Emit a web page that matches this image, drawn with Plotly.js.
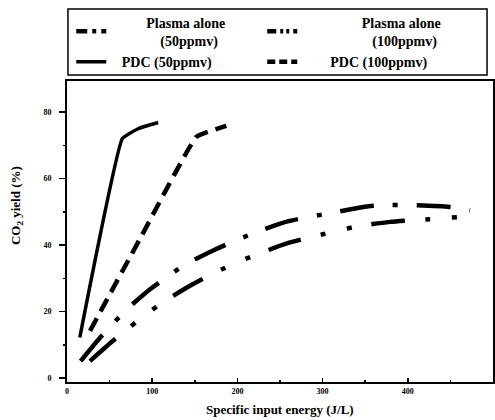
<!DOCTYPE html>
<html>
<head>
<meta charset="utf-8">
<script src="https://cdn.plot.ly/plotly-3.0.1.min.js"></script>
<style>html,body{margin:0;padding:0;background:#fff;}#chart{width:495px;height:420px;}</style>
</head>
<body>
<div id="chart"></div>
<script>
// Data
const plasma50X = [16, 39, 70, 99, 138, 174, 221, 260, 312, 354, 381, 406, 449, 473];
const plasma50Y = [5.1, 12.2, 20.6, 27.0, 34.0, 38.7, 43.8, 47.2, 49.8, 51.7, 52.1, 52.0, 51.5, 50.5];
const plasma100X = [27, 54, 94, 115, 148, 194, 219, 258, 312, 338, 379, 437, 471];
const plasma100Y = [5.1, 11.2, 19.4, 23.2, 28.3, 34.2, 36.8, 40.5, 44.0, 45.5, 47.0, 48.0, 48.7];
const pdc50X = [15, 65, 84, 107];
const pdc50Y = [12.2, 72.1, 75.1, 76.9];
const pdc100X = [27, 88, 152, 187];
const pdc100Y = [14.2, 43.0, 72.6, 75.9];

const nb = n => '\u00A0'.repeat(n);
const names = {
  p50: nb(10) + 'Plasma alone<br>' + nb(14) + '(50ppmv)',
  p100: nb(17) + 'Plasma alone<br>' + nb(20) + '(100ppmv)',
  d50: nb(3) + 'PDC (50ppmv)',
  d100: nb(8) + 'PDC (100ppmv)'
};

const serif = 'Liberation Serif, Times New Roman, serif';

const styles = {
  p50: {color: '#000', width: 4.5, dash: '34px,19px,5px,19px'},
  p100: {color: '#000', width: 4.5, dash: '34px,20px,5px,22px,5px,20px'},
  d50: {color: '#000', width: 3.5},
  d100: {color: '#000', width: 4.5, dash: '14px,8px'}
};
const legendDash = {
  p50: '11px,5px,4px,5px',
  p100: '9px,4px,3px,3px,3px,4px',
  d50: 'solid',
  d100: '8px,4px'
};

const series = [
  ['p50', plasma50X, plasma50Y, 'spline', 0.6],
  ['p100', plasma100X, plasma100Y, 'spline', 0.6],
  ['d50', pdc50X, pdc50Y, 'spline', 0.3],
  ['d100', pdc100X, pdc100Y, 'spline', 0.3]
];

const traces = [];
series.forEach(([k, xs, ys, shape, sm]) => {
  traces.push({x: xs, y: ys, mode: 'lines', showlegend: false, hoverinfo: 'skip',
    line: Object.assign({}, styles[k], {shape: shape, smoothing: sm})});
});
// legend entries (same series, legend-sized dash pattern)
series.forEach(([k]) => {
  traces.push({x: [null], y: [null], mode: 'lines', name: names[k], showlegend: true,
    line: Object.assign({}, styles[k], {dash: legendDash[k]})});
});

const layout = {
  width: 495, height: 420,
  margin: {l: 67, r: 2, t: 81, b: 38},
  paper_bgcolor: '#fff', plot_bgcolor: '#fff',
  font: {family: serif, color: '#000'},
  showlegend: true,
  legend: {
    orientation: 'h', x: 0.01, xanchor: 'left', y: 1.247, yanchor: 'top',
    entrywidth: 146, entrywidthmode: 'pixels',
    borderwidth: 0, bgcolor: 'rgba(0,0,0,0)',
    font: {family: serif, size: 14, weight: 700, color: '#000'},
    valign: 'middle', itemwidth: 30, tracegroupgap: 0
  },
  shapes: [
    {type: 'rect', xref: 'paper', yref: 'paper', x0: 0.0023, x1: 0.986, y0: 1.02, y1: 1.239,
     line: {color: '#000', width: 1.5}, fillcolor: 'rgba(0,0,0,0)'}
  ],
  xaxis: {
    range: [0, 500], showgrid: false, zeroline: false,
    showline: true, linecolor: '#000', linewidth: 2, mirror: true,
    ticks: 'inside', ticklen: 4, tickwidth: 1.5, tickcolor: '#000',
    dtick: 100, tick0: 0,
    minor: {dtick: 50, ticks: 'inside', ticklen: 2, tickcolor: '#000'},
    tickfont: {family: serif, size: 8, weight: 700, color: '#000'}
  },
  yaxis: {
    range: [-1.2, 89.4], showgrid: false, zeroline: false,
    showline: true, linecolor: '#000', linewidth: 2, mirror: true,
    ticks: 'outside', ticklen: 6, tickwidth: 1.5, tickcolor: '#000',
    dtick: 20, tick0: 0, ticklabelstandoff: 6,
    minor: {dtick: 10, ticks: 'outside', ticklen: 2, tickcolor: '#000'},
    tickfont: {family: serif, size: 8, weight: 700, color: '#000'}
  },
  annotations: [
    {text: 'Specific input energy (J/L)', xref: 'paper', yref: 'paper', x: 0.5, y: -0.093,
     xanchor: 'center', yanchor: 'middle', showarrow: false,
     font: {family: serif, size: 13, weight: 700, color: '#000'}},
    {text: 'CO<sub>2</sub> yield (%)', xref: 'paper', yref: 'paper', x: -0.117, y: 0.585,
     xanchor: 'center', yanchor: 'middle', showarrow: false, textangle: -90,
     font: {family: serif, size: 13, weight: 700, color: '#000'}}
  ]
};

Plotly.newPlot('chart', traces, layout, {displayModeBar: false, staticPlot: true});
</script>
</body>
</html>
